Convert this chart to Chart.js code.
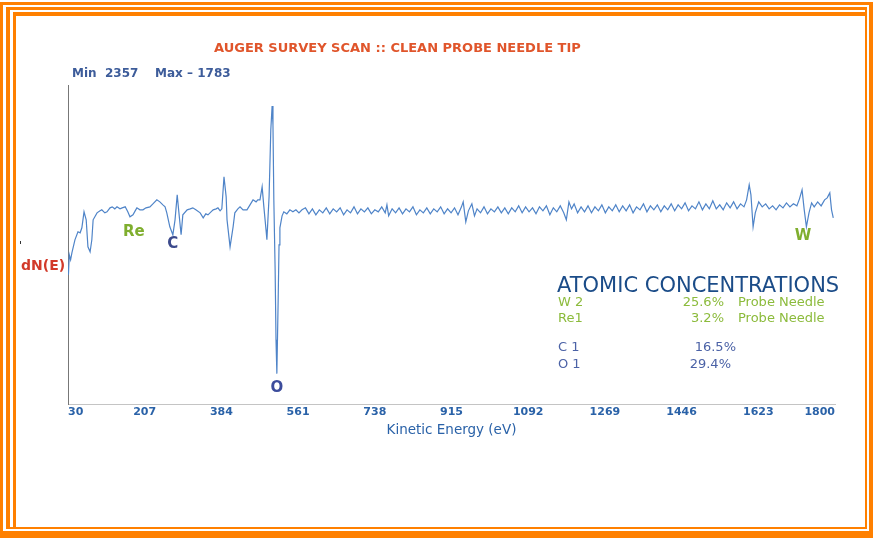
<!DOCTYPE html>
<html>
<head>
<meta charset="utf-8">
<script src="https://cdn.jsdelivr.net/npm/chart.js@4.4.1/dist/chart.umd.min.js"></script>
<style>
  html, body { margin: 0; padding: 0; background: #fff; }
  #wrap { position: relative; width: 873px; height: 540px; overflow: hidden; background: #fff; }
  #wrap canvas { position: absolute; left: 0; top: 0; }
  .frame { position: absolute; box-sizing: border-box; border-style: solid; border-color: #ff8000; }
  .txt { position: absolute; white-space: pre; font-family: "DejaVu Sans", Verdana, sans-serif; }
</style>
</head>
<body>
<div id="wrap">
  <div class="frame" style="left:0;top:2px;width:873px;height:536px;border-width:3px 4px 7px 3px;"></div>
  <div class="frame" style="left:6px;top:7px;width:861px;height:522px;border-width:3px 2px 2px 4px;"></div>
  <div class="frame" style="left:13px;top:12px;width:852px;height:515px;border-width:4px 0 0 3px;"></div>

  <canvas id="augerChart" width="873" height="540"></canvas>

  <div class="txt" style="left:214px;top:41px;line-height:14px;font-size:13px;font-weight:bold;color:#e0552b;">AUGER SURVEY SCAN :: CLEAN PROBE NEEDLE TIP</div>
  <div class="txt" style="left:72px;top:66px;line-height:14px;font-size:12px;font-weight:bold;color:#3d5c9a;">Min  2357    Max – 1783</div>
  <div class="txt" style="left:21px;top:258px;line-height:15px;font-size:14px;font-weight:bold;color:#d23a2a;">dN(E)</div>
  <div style="position:absolute;left:20px;top:241px;width:1px;height:3px;background:#333;"></div>

  <div class="txt" style="left:557px;top:274px;line-height:22px;font-size:21px;color:#1b4c88;">ATOMIC CONCENTRATIONS</div>
  <div id="concTable"></div>
</div>

<script>
// survey scan (arbitrary dN(E) units)
const energy = [30, 31, 33, 36, 39, 46, 53, 58, 62, 67, 72, 76, 81, 85, 88, 97, 104, 108, 115, 120,
  127, 132, 138, 143, 150, 155, 162, 168, 173, 180, 185, 189, 196, 203, 210, 219, 226, 235, 242, 249,
  254, 258, 265, 272, 277, 282, 286, 291, 295, 305, 312, 318, 325, 335, 342, 348, 353, 360, 365, 372,
  376, 381, 385, 390, 395, 397, 404, 411, 415, 422, 427, 434, 443, 450, 457, 464, 468, 473, 478, 482,
  487, 489, 494, 498, 501, 503, 505, 508, 510, 512, 515, 517, 519, 524, 528, 535, 542, 549, 556, 563,
  570, 578, 586, 594, 602, 610, 618, 626, 634, 642, 650, 658, 666, 674, 682, 690, 698, 706, 714, 722,
  730, 738, 746, 754, 762, 766, 770, 778, 786, 794, 802, 810, 818, 826, 834, 842, 850, 858, 866, 874,
  882, 890, 898, 906, 914, 922, 930, 938, 942, 948, 954, 962, 968, 974, 982, 990, 998, 1006, 1014, 1022,
  1030, 1038, 1046, 1054, 1062, 1070, 1078, 1086, 1094, 1102, 1110, 1118, 1126, 1134, 1142, 1150, 1158, 1166, 1174, 1180,
  1186, 1192, 1198, 1206, 1214, 1222, 1230, 1238, 1246, 1254, 1262, 1270, 1278, 1286, 1294, 1302, 1310, 1318, 1326, 1334,
  1342, 1350, 1358, 1366, 1374, 1382, 1390, 1398, 1406, 1414, 1422, 1430, 1438, 1446, 1454, 1462, 1470, 1478, 1486, 1494,
  1502, 1510, 1518, 1526, 1534, 1542, 1550, 1558, 1566, 1574, 1582, 1590, 1596, 1602, 1606, 1611, 1616, 1624, 1632, 1640,
  1648, 1656, 1664, 1672, 1680, 1688, 1696, 1704, 1712, 1718, 1724, 1729, 1734, 1740, 1746, 1752, 1760, 1768, 1776, 1782,
  1788, 1792, 1796];

const dNE = [138, 130, 150, 145, 152, 165, 173, 172, 177, 193, 185, 158, 153, 165, 185, 192, 194, 195, 192, 193,
  197, 198, 196, 198, 196, 197, 198, 193, 188, 190, 194, 197, 195, 195, 197, 198, 201, 205, 203, 200,
  198, 192, 178, 170, 185, 210, 192, 170, 190, 195, 196, 197, 195, 192, 187, 191, 190, 193, 195, 196,
  197, 194, 196, 228, 208, 185, 158, 178, 192, 196, 198, 195, 195, 200, 205, 203, 205, 205, 218, 198,
  175, 165, 208, 275, 299, 280, 205, 135, 65, 31, 105, 160, 177, 189, 193, 191, 195, 193, 195, 192,
  195, 197, 191, 196, 190, 195, 192, 197, 191, 196, 193, 197, 190, 195, 192, 198, 191, 196, 193, 197,
  191, 195, 193, 198, 192, 200, 189, 196, 192, 197, 191, 196, 193, 198, 190, 195, 192, 197, 191, 196,
  193, 198, 191, 196, 192, 197, 190, 198, 203, 183, 194, 201, 189, 196, 192, 198, 191, 196, 193, 198,
  192, 197, 191, 197, 193, 199, 192, 198, 193, 197, 191, 198, 194, 199, 190, 197, 193, 199, 192, 185,
  203, 196, 201, 192, 198, 193, 199, 192, 198, 194, 200, 192, 198, 194, 200, 193, 199, 194, 200, 192,
  198, 195, 201, 193, 199, 195, 200, 193, 199, 195, 201, 194, 200, 196, 202, 194, 199, 196, 203, 195,
  201, 196, 204, 196, 200, 195, 202, 197, 203, 196, 201, 198, 205, 220, 210, 178, 192, 203, 198, 201,
  196, 199, 195, 200, 197, 202, 198, 201, 199, 206, 215, 195, 178, 192, 202, 198, 203, 199, 205, 207,
  212, 195, 187];

const tickValues = [30, 207, 384, 561, 738, 915, 1092, 1269, 1446, 1623, 1800];

// element markers on the spectrum
const peakNames = ['Re', 'C', 'O', 'W'];
const peakEnergy = [182, 272, 512, 1726];
const peakLevel = [173, 161, 17, 169];
const peakColors = ['#7fae2e', '#3c4a8c', '#3c4c9c', '#7fae2e'];

// atomic concentrations
const concElement = ['W 2', 'Re1', 'C 1', 'O 1'];
const concPercent = ['25.6%', '3.2%', '16.5%', '29.4%'];
const concNote = ['Probe Needle', 'Probe Needle', '', ''];

const rowTop = [294, 310, 339, 356];
const pctRight = [149, 149, 137, 142];
const rowColors = ['#8cbb3c', '#8cbb3c', '#4b62a6', '#4b62a6'];
let html = '';
for (let i = 0; i < concElement.length; i++) {
    const st = 'top:' + rowTop[i] + 'px;line-height:15px;font-size:13px;color:' + rowColors[i] + ';';
    html += '<div class="txt" style="left:558px;' + st + '">' + concElement[i] + '</div>';
    html += '<div class="txt" style="right:' + pctRight[i] + 'px;' + st + '">' + concPercent[i] + '</div>';
    if (concNote[i]) {
        html += '<div class="txt" style="left:738px;' + st + '">' + concNote[i] + '</div>';
    }
}
document.getElementById('concTable').innerHTML = html;

const peakLabelPlugin = {
    id: 'peakLabels',
    afterDatasetsDraw(chart) {
        const ctx = chart.ctx;
        const xs = chart.scales.x, ys = chart.scales.y;
        ctx.save();
        ctx.font = 'bold 15px "DejaVu Sans", sans-serif';
        ctx.textAlign = 'center';
        ctx.textBaseline = 'middle';
        peakNames.forEach((name, i) => {
            ctx.fillStyle = peakColors[i];
            ctx.fillText(name, xs.getPixelForValue(peakEnergy[i]), ys.getPixelForValue(peakLevel[i]));
        });
        ctx.restore();
    }
};

const points = energy.map((e, i) => ({ x: e, y: dNE[i] }));

new Chart(document.getElementById('augerChart').getContext('2d'), {
    type: 'line',
    data: {
        datasets: [{
            data: points,
            borderColor: '#4f84c8',
            borderWidth: 1.2,
            pointRadius: 0,
            tension: 0,
            fill: false
        }]
    },
    options: {
        responsive: false,
        animation: false,
        layout: { padding: { left: 68, right: 38, top: 85, bottom: 100 } },
        plugins: {
            legend: { display: false },
            tooltip: { enabled: false }
        },
        scales: {
            x: {
                type: 'linear',
                min: 30,
                max: 1800,
                afterBuildTicks: (scale) => {
                    scale.ticks = tickValues.map(v => ({ value: v }));
                },
                grid: { display: false, drawTicks: false },
                border: { display: true, color: '#c4c4c4', width: 1, dash: [1, 1] },
                ticks: {
                    align: 'inner',
                    padding: 1,
                    color: '#2a62a8',
                    font: { family: '"DejaVu Sans", sans-serif', size: 11, weight: 'bold' },
                    callback: (v) => String(v)
                },
                title: {
                    display: true,
                    text: 'Kinetic Energy (eV)',
                    color: '#2a62a8',
                    padding: { top: 3, bottom: 1 },
                    font: { family: '"DejaVu Sans", sans-serif', size: 13.5 }
                }
            },
            y: {
                min: 0,
                max: 320,
                grid: { display: false, drawTicks: false },
                border: { display: true, color: '#777', width: 1 },
                ticks: { display: false }
            }
        }
    },
    plugins: [peakLabelPlugin]
});
</script>
</body>
</html>
